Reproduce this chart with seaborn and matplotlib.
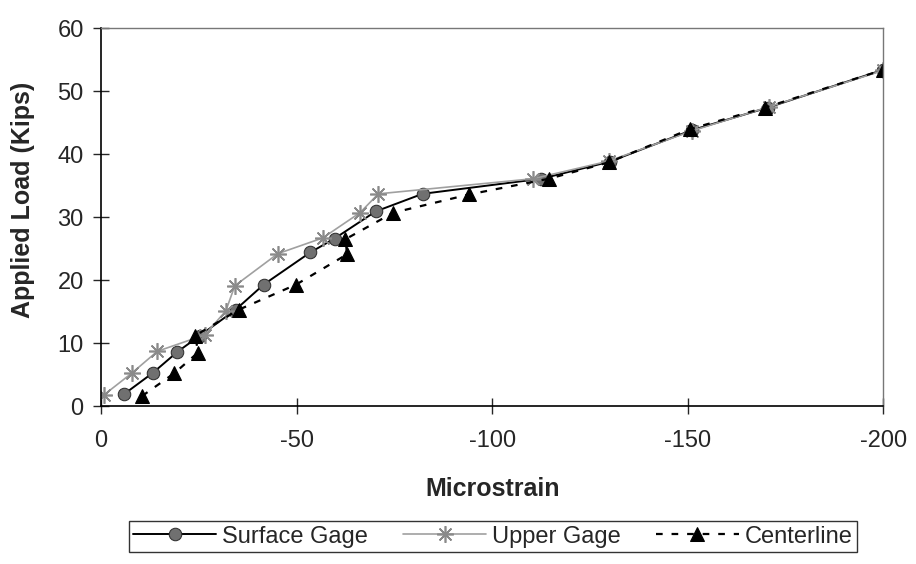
import matplotlib
matplotlib.use("Agg")
import matplotlib.pyplot as plt
import seaborn as sns
import pandas as pd

# readings (microstrain, kips)
surface_strain = [-5.9, -13.3, -19.5, -25.3, -34.4, -41.6, -53.5, -59.7, -70.2, -82.2, -112.6, -130.0, -151.0, -170.5, -200.0]
surface_load = [1.9, 5.3, 8.6, 11.2, 15.3, 19.3, 24.4, 26.6, 30.9, 33.7, 36.1, 38.8, 43.8, 47.4, 53.4]

upper_strain = [-0.8, -8.0, -14.4, -26.5, -31.9, -34.2, -45.2, -56.7, -66.2, -70.9, -110.5, -129.8, -151.1, -170.7, -200.0]
upper_load = [1.8, 5.3, 8.7, 11.3, 15.1, 19.1, 24.2, 26.7, 30.7, 33.7, 36.1, 38.9, 43.7, 47.5, 53.3]

center_strain = [-10.5, -18.7, -24.8, -24.1, -35.2, -49.9, -62.9, -62.5, -74.7, -94.1, -114.5, -129.8, -150.7, -169.8, -200.0]
center_load = [1.6, 5.2, 8.5, 11.2, 15.3, 19.3, 24.1, 26.5, 30.7, 33.6, 36.1, 38.7, 44.0, 47.4, 53.4]

x_ticks = [0, -50, -100, -150, -200]
y_ticks = [0, 10, 20, 30, 40, 50, 60]

sns.set_style("white")
plt.rcParams['font.family'] = ['Liberation Sans', 'DejaVu Sans']

fig = plt.figure(figsize=(9.16, 5.64), dpi=100)
ax = fig.add_axes([0.1103, 0.280, 0.854, 0.670])

series = [
    ("Surface Gage", surface_strain, surface_load,
     dict(color="black", lw=1.4, ls="-", marker="o", markersize=9,
          markerfacecolor="#707070", markeredgecolor="#303030")),
    ("Upper Gage", upper_strain, upper_load,
     dict(color="#a0a0a0", lw=1.2, ls="-", marker=(8, 2, 0), markersize=12,
          markeredgecolor="#8a8a8a", markeredgewidth=1.2)),
    ("Centerline", center_strain, center_load,
     dict(color="black", lw=1.6, ls=(0, (3, 4)), marker="^", markersize=10,
          markerfacecolor="black", markeredgecolor="black")),
]

for name, xs, ys, style in series:
    df = pd.DataFrame({"Microstrain": xs, "Load": ys})
    sns.lineplot(data=df, x="Microstrain", y="Load", sort=False, ax=ax,
                 label=name, **style)

ax.set_xlim(0, -200)
ax.set_ylim(0, 60)
ax.set_xticks(x_ticks)
ax.set_xticklabels([str(t) for t in x_ticks])
ax.set_yticks(y_ticks)
ax.tick_params(axis="x", direction="inout", length=11, width=1, labelsize=17, pad=12)
ax.tick_params(axis="y", direction="inout", length=11, width=1, labelsize=17, pad=7)
ax.tick_params(bottom=True, left=True)

for side in ["top", "right"]:
    ax.spines[side].set_color("#777777")
    ax.spines[side].set_linewidth(1.0)
for side in ["left", "bottom"]:
    ax.spines[side].set_color("black")
    ax.spines[side].set_linewidth(1.2)

ax.set_xlabel("Microstrain", fontsize=18, fontweight="bold")
ax.set_ylabel("Applied Load (Kips)", fontsize=18, fontweight="bold")
ax.xaxis.set_label_coords(0.5, -0.188)
ax.xaxis.label.set_va("top")
ax.yaxis.set_label_coords(-0.084, 0.545)

leg = ax.legend(loc="upper center", bbox_to_anchor=(0.501, -0.304), ncol=3,
                frameon=True, fancybox=False, edgecolor="black", fontsize=17,
                handlelength=3.5, handletextpad=0.25, columnspacing=1.5,
                borderpad=0.2, borderaxespad=0)
leg.get_frame().set_linewidth(1.0)

fig.savefig("out.png", dpi=100)
